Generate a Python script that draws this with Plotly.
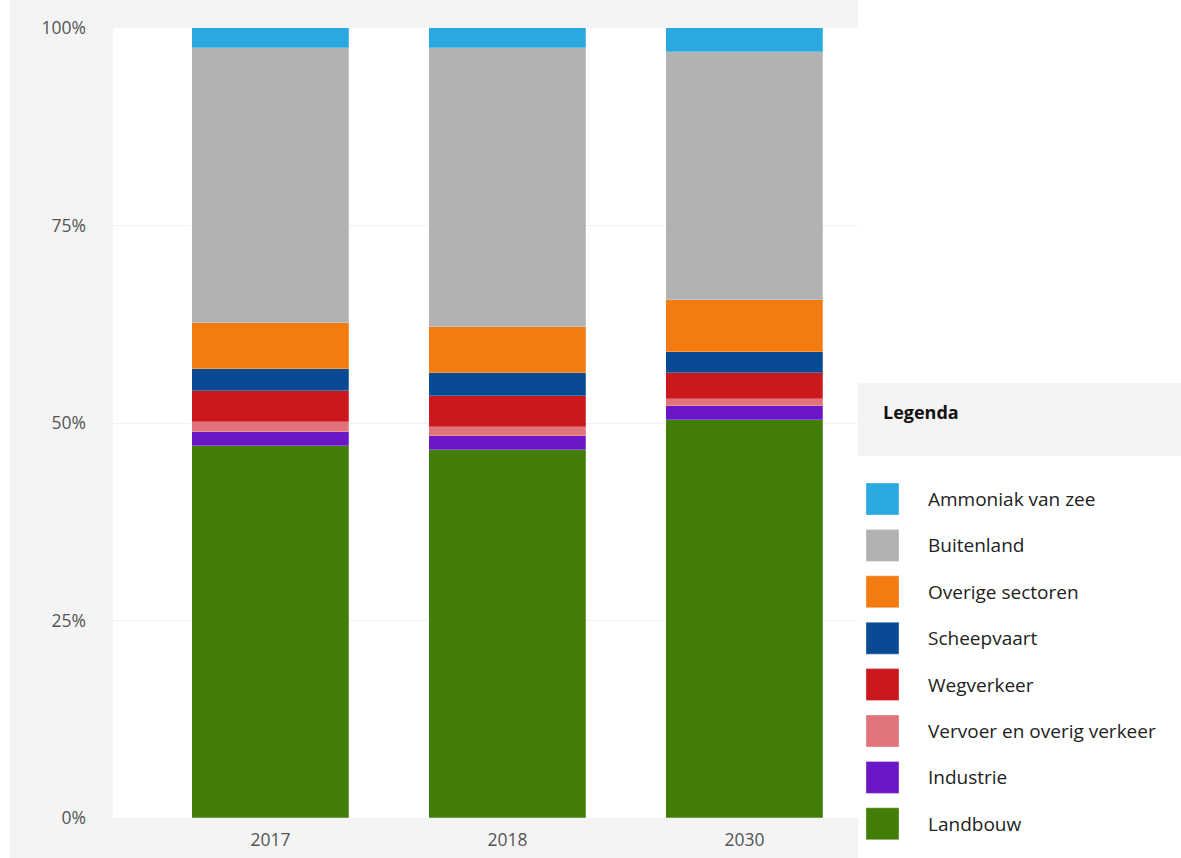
import plotly.graph_objects as go

years = ["2017", "2018", "2030"]
series_names = ["Landbouw", "Industrie", "Vervoer en overig verkeer", "Wegverkeer",
                "Scheepvaart", "Overige sectoren", "Buitenland", "Ammoniak van zee"]
landbouw = [47.1, 46.6, 50.4]
industrie = [1.7, 1.7, 1.7]
vervoer = [1.3, 1.2, 1.0]
wegverkeer = [4.0, 3.9, 3.2]
scheepvaart = [2.7, 2.9, 2.7]
overige = [5.9, 5.9, 6.6]
buitenland = [34.8, 35.3, 31.4]
ammoniak = [2.5, 2.5, 3.0]
series_values = [landbouw, industrie, vervoer, wegverkeer, scheepvaart, overige, buitenland, ammoniak]
colors = ["#427d08", "#6b17c8", "#e0737b", "#cb181d", "#084a94", "#f47b10", "#b2b2b2", "#29a9e0"]
y_ticks = [0, 25, 50, 75, 100]
y_tick_labels = ["0%", "25%", "50%", "75%", "100%"]

W, H = 1181, 858
L, R, T, B = 113, 858, 28, 818
FONT = "Open Sans"

fig = go.Figure()
xs = list(range(len(years)))
for name, vals, col in zip(series_names, series_values, colors):
    fig.add_trace(go.Bar(
        x=xs, y=vals, name=name, marker_color=col,
        marker_line=dict(width=0.8, color="rgba(255,255,255,0.3)"),
        width=0.6624, showlegend=False,
    ))

def px_x(px):
    return (px - L) / (R - L)

def px_y(py):
    return (B - py) / (B - T)

shapes = []
shapes.append(dict(type="rect", xref="paper", yref="paper", layer="below",
                   x0=px_x(10), x1=px_x(858), y0=px_y(H), y1=px_y(0),
                   fillcolor="#f4f4f4", line_width=0))
shapes.append(dict(type="rect", xref="paper", yref="paper", layer="below",
                   x0=0, x1=1, y0=0, y1=1, fillcolor="white", line_width=0))
shapes.append(dict(type="rect", xref="paper", yref="paper", layer="below",
                   x0=px_x(858), x1=px_x(1181), y0=px_y(456), y1=px_y(383),
                   fillcolor="#f4f4f4", line_width=0))

annotations = [dict(text="<b>Legenda</b>", xref="paper", yref="paper",
                    x=px_x(881), y=px_y(412), xanchor="left", yanchor="middle",
                    showarrow=False, font=dict(family=FONT, size=18, color="#111"))]

legend_order = list(range(len(series_names)))[::-1]
for i, idx in enumerate(legend_order):
    cy = 499 + i * 46.4
    shapes.append(dict(type="rect", xref="paper", yref="paper",
                       x0=px_x(866), x1=px_x(899), y0=px_y(cy + 16), y1=px_y(cy - 16),
                       fillcolor=colors[idx], line=dict(width=1, color="rgba(255,255,255,0.35)")))
    annotations.append(dict(text=series_names[idx], xref="paper", yref="paper",
                            x=px_x(926), y=px_y(cy), xanchor="left", yanchor="middle",
                            showarrow=False,
                            font=dict(family=FONT, size=19, color="#222")))

fig.update_layout(
    width=W, height=H,
    margin=dict(l=L, r=W - R, t=T, b=H - B, pad=0, autoexpand=False),
    paper_bgcolor="white", plot_bgcolor="rgba(0,0,0,0)",
    barmode="stack", bargap=0,
    shapes=shapes, annotations=annotations,
    font=dict(family=FONT, size=17, color="#555"),
    xaxis=dict(range=[-0.6646, 2.479], tickvals=xs, ticktext=years,
               showgrid=False, zeroline=False, showline=False, automargin=False,
               tickfont=dict(family=FONT, size=17.5, color="#555"),
               ticklabelstandoff=9),
    yaxis=dict(range=[0, 100], tickvals=y_ticks, ticktext=y_tick_labels,
               showgrid=True, gridcolor="#f2f2f2", gridwidth=1,
               zeroline=False, showline=False, automargin=False,
               tickfont=dict(family=FONT, size=17.5, color="#555"),
               ticklabelstandoff=26),
)

fig.write_html("out.html")
